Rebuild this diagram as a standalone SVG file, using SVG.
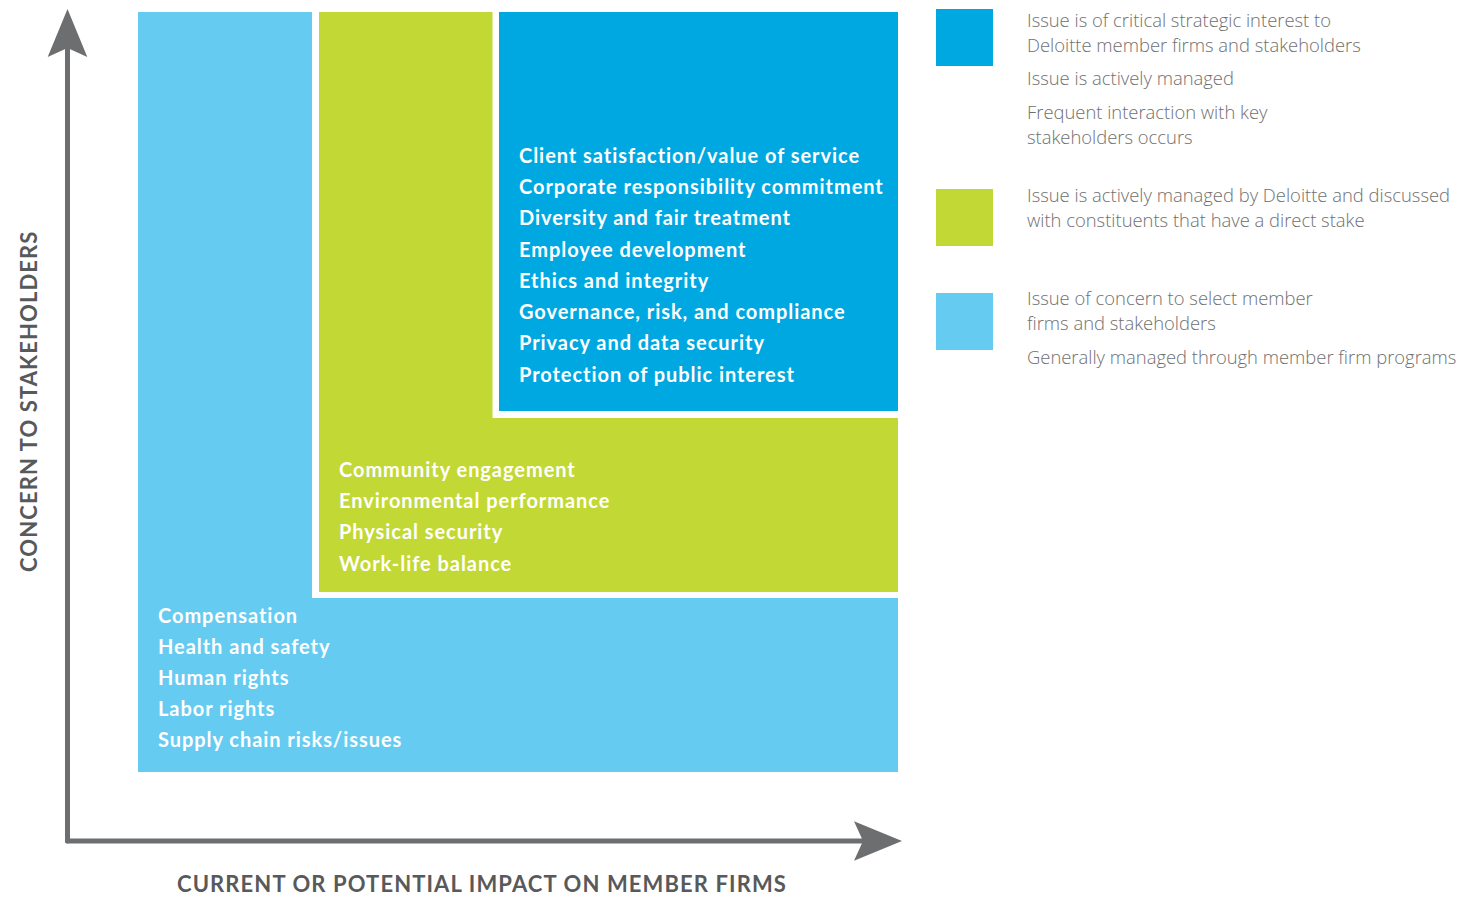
<svg xmlns="http://www.w3.org/2000/svg" width="1471" height="898" viewBox="0 0 1471 898">
  <style>
    .box-text { font-family: Lato, "Open Sans", "Liberation Sans", sans-serif; font-weight: 700; font-size: 20px; letter-spacing: 0.95px; fill: #ffffff; }
    .axis-label { font-family: Lato, "Open Sans", "Liberation Sans", sans-serif; font-weight: 700; font-size: 22px; letter-spacing: 1.1px; fill: #58595b; }
    .legend-text { font-family: "Open Sans", "Liberation Sans", sans-serif; font-weight: 300; font-size: 18.4px; fill: #707070; }
    .axis { fill: none; stroke: #6d6e70; stroke-width: 5; stroke-linecap: round; marker-end: url(#arrow); }
    .c-dark { fill: #00a8e2; }
    .c-green { fill: #c2d835; }
    .c-light { fill: #65cbf1; }
  </style>
  <defs>
    <marker id="arrow" markerUnits="userSpaceOnUse" viewBox="-10 -21 50 42" markerWidth="50" markerHeight="42" refX="0" refY="0" orient="auto">
      <path d="M39,0 L-9,-19.8 L0,0 L-9,19.8 Z" fill="#6d6e70"/>
    </marker>
  </defs>

  <rect width="1471" height="898" fill="#ffffff"/>

  <g id="tier-low">
    <rect class="c-light" x="138" y="12" width="760" height="760"/>
    <text class="box-text" x="158" y="623">Compensation</text>
    <text class="box-text" x="158" y="654">Health and safety</text>
    <text class="box-text" x="158" y="685">Human rights</text>
    <text class="box-text" x="158" y="716">Labor rights</text>
    <text class="box-text" x="158" y="747">Supply chain risks/issues</text>
  </g>

  <g id="tier-mid">
    <rect fill="#ffffff" x="312" y="12" width="586" height="586"/>
    <rect class="c-green" x="319" y="12" width="579" height="580"/>
    <text class="box-text" x="339" y="477">Community engagement</text>
    <text class="box-text" x="339" y="508">Environmental performance</text>
    <text class="box-text" x="339" y="539">Physical security</text>
    <text class="box-text" x="339" y="571">Work-life balance</text>
  </g>

  <g id="tier-high">
    <rect fill="#ffffff" x="492.5" y="12" width="405.5" height="406"/>
    <rect class="c-dark" x="499" y="12" width="399" height="399"/>
    <text class="box-text" x="519" y="163">Client satisfaction/value of service</text>
    <text class="box-text" x="519" y="194">Corporate responsibility commitment</text>
    <text class="box-text" x="519" y="225">Diversity and fair treatment</text>
    <text class="box-text" x="519" y="257">Employee development</text>
    <text class="box-text" x="519" y="288">Ethics and integrity</text>
    <text class="box-text" x="519" y="319">Governance, risk, and compliance</text>
    <text class="box-text" x="519" y="350">Privacy and data security</text>
    <text class="box-text" x="519" y="382">Protection of public interest</text>
  </g>

  <g id="axes">
    <path class="axis" d="M67.5,841 V48"/>
    <path class="axis" d="M67.5,841 H863"/>
  </g>

  <g id="axis-labels">
    <text class="axis-label" x="177" y="892">CURRENT OR POTENTIAL IMPACT ON MEMBER FIRMS</text>
    <text class="axis-label" transform="translate(37,572) rotate(-90)">CONCERN TO STAKEHOLDERS</text>
  </g>

  <g id="legend-high">
    <rect class="c-dark" x="936" y="9" width="57" height="57"/>
    <text class="legend-text" x="1027" y="27">Issue is of critical strategic interest to</text>
    <text class="legend-text" x="1027" y="52">Deloitte member firms and stakeholders</text>
    <text class="legend-text" x="1027" y="85">Issue is actively managed</text>
    <text class="legend-text" x="1027" y="119">Frequent interaction with key</text>
    <text class="legend-text" x="1027" y="144">stakeholders occurs</text>
  </g>

  <g id="legend-mid">
    <rect class="c-green" x="936" y="189" width="57" height="57"/>
    <text class="legend-text" x="1027" y="202">Issue is actively managed by Deloitte and discussed</text>
    <text class="legend-text" x="1027" y="227">with constituents that have a direct stake</text>
  </g>

  <g id="legend-low">
    <rect class="c-light" x="936" y="293" width="57" height="57"/>
    <text class="legend-text" x="1027" y="305">Issue of concern to select member</text>
    <text class="legend-text" x="1027" y="330">firms and stakeholders</text>
    <text class="legend-text" x="1027" y="364">Generally managed through member firm programs</text>
  </g>
</svg>
